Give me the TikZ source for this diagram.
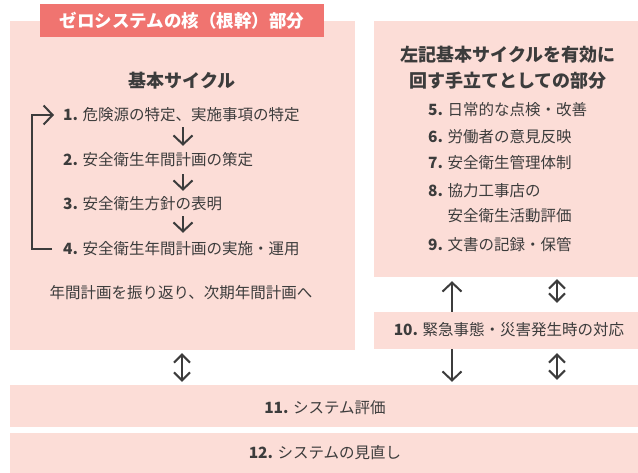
\documentclass[tikz,border=0pt]{standalone}
\usepackage{fontspec}
\setmainfont{Noto Sans CJK JP}
\usetikzlibrary{arrows.meta}
\definecolor{pinkbg}{HTML}{FCDDD7}
\definecolor{banner}{HTML}{F07470}
\definecolor{ink}{HTML}{3C3C3C}
\begin{document}
\begin{tikzpicture}[x=1pt,y=-1pt,
  box/.style={fill=pinkbg, draw=none, inner sep=0pt},
  itm/.style={anchor=west, inner sep=0pt, font=\fontsize{15.5}{25}\selectfont, text=ink, text height=14pt, text depth=2pt},
  ctxt/.style={inner sep=0pt, font=\fontsize{15.5}{25}\selectfont, text=ink},
  head/.style={inner sep=0pt, font=\bfseries\fontsize{18}{26}\selectfont, text=ink, align=center},
  arr/.style={draw=ink, line width=2pt, -{Straight Barb[length=9pt,width=19pt]}},
  darr/.style={draw=ink, line width=2pt, {Straight Barb[length=8pt,width=16pt]}-{Straight Barb[length=8pt,width=16pt]}}]
\useasboundingbox (0,0) rectangle (638,473);
% boxes
\node[box, minimum width=345pt, minimum height=329pt] (lbox) at (182.5,185.5) {};
\node[fill=banner, minimum width=284pt, minimum height=33pt, inner sep=0pt, text=white,
      font=\bfseries\fontsize{17.5}{20}\selectfont] (ttl) at (182,20.5) {ゼロシステムの核（根幹）部分};
\node[box, minimum width=264pt, minimum height=256pt] (rbox) at (506,149) {};
\node[box, minimum width=264pt, minimum height=37pt] (b10) at (506,330.5) {};
\node[box, minimum width=628pt, minimum height=42pt] (b11) at (324,406) {};
\node[box, minimum width=628pt, minimum height=40pt] (b12) at (324,453) {};
% left content
\node[head] (cyc) at (182,81) {基本サイクル};
\node[itm] (i1) at (63,115) {\textbf{1.} 危険源の特定、実施事項の特定};
\node[itm] (i2) at (63,160) {\textbf{2.} 安全衛生年間計画の策定};
\node[itm] (i3) at (63,204) {\textbf{3.} 安全衛生方針の表明};
\node[itm] (i4) at (63,249) {\textbf{4.} 安全衛生年間計画の実施・運用};
\node[ctxt] (note) at (181,293) {年間計画を振り返り、次期年間計画へ};
\coordinate (ax) at (183,0);
\draw[arr, shorten <=4pt, shorten >=6pt] (i1.south -| ax) -- (i2.north -| ax);
\draw[arr, shorten <=6pt, shorten >=5pt] (i2.south -| ax) -- (i3.north -| ax);
\draw[arr, shorten <=4pt, shorten >=8pt] (i3.south -| ax) -- (i4.north -| ax);
\draw[arr] ([xshift=-11pt]i4.west) -- ++(-20,0) |- ([xshift=-9pt]i1.west);
% right content
\node[head] (rt) at (508,67.5) {左記基本サイクルを有効に\\回す手立てとしての部分};
\node[itm] (i5) at (428,110) {\textbf{5.} 日常的な点検・改善};
\node[itm] (i6) at (428,137) {\textbf{6.} 労働者の意見反映};
\node[itm] (i7) at (428,163) {\textbf{7.} 安全衛生管理体制};
\node[itm, align=left, text height=, text depth=] (i8) at (428,203) {\textbf{8.} 協力工事店の\\\phantom{\textbf{8.} }安全衛生活動評価};
\node[itm] (i9) at (428,245) {\textbf{9.} 文書の記録・保管};
% bottom texts
\node[ctxt] (t10) at (509,330) {\textbf{10.} 緊急事態・災害発生時の対応};
\node[ctxt] (t11) at (325,407.5) {\textbf{11.} システム評価};
\node[ctxt] (t12) at (325,453) {\textbf{12.} システムの見直し};
% connectors
\coordinate (xl) at (182,0);
\coordinate (xu) at (452,0);
\coordinate (xd) at (557,0);
\draw[darr, shorten <=3pt, shorten >=3pt] (lbox.south -| xl) -- (b11.north -| xl);
\draw[arr, shorten >=4pt] (b10.north -| xu) -- (rbox.south -| xu);
\draw[darr, shorten <=2pt, shorten >=9pt] (rbox.south -| xd) -- (b10.north -| xd);
\draw[arr, shorten >=3pt] (b10.south -| xu) -- (b11.north -| xu);
\draw[darr, shorten <=4pt, shorten >=5pt] (b10.south -| xd) -- (b11.north -| xd);
\end{tikzpicture}
\end{document}
